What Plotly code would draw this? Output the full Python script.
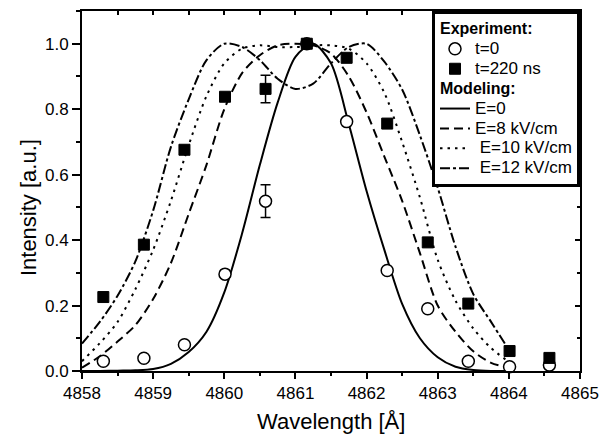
import plotly.graph_objects as go

# ---------------- data ----------------
x_exp = [4858.30, 4858.87, 4859.44, 4860.01, 4860.58, 4861.16,
         4861.72, 4862.29, 4862.86, 4863.43, 4864.01, 4864.57]
y_t0 = [0.030, 0.039, 0.080, 0.296, 0.519, 1.000,
        0.762, 0.307, 0.190, 0.030, 0.013, 0.018]
y_t220 = [0.226, 0.386, 0.676, 0.838, 0.862, 1.000,
          0.957, 0.756, 0.393, 0.206, 0.061, 0.040]
err_t0 = [0, 0, 0, 0, 0.050, 0, 0, 0, 0, 0, 0, 0]
err_t220 = [0, 0, 0, 0, 0.042, 0, 0, 0, 0, 0, 0, 0]

x_model = [4858.00, 4858.25, 4858.50, 4858.75, 4859.00, 4859.25, 4859.50,
           4859.75, 4860.00, 4860.25, 4860.50, 4860.75, 4861.00, 4861.25,
           4861.50, 4861.75, 4862.00, 4862.25, 4862.50, 4862.75, 4863.00,
           4863.25, 4863.50, 4863.75, 4864.00]
e0 = [0.000, 0.000, 0.001, 0.002, 0.006, 0.022, 0.058, 0.120, 0.240, 0.420,
      0.630, 0.820, 0.960, 1.000, 0.940, 0.755, 0.550, 0.370, 0.205, 0.100,
      0.042, 0.013, 0.003, 0.000, 0.000]
e8 = [0.010, 0.045, 0.090, 0.140, 0.220, 0.330, 0.480, 0.630, 0.800, 0.910,
      0.965, 0.995, 1.000, 0.995, 0.970, 0.900, 0.790, 0.655, 0.520, 0.360,
      0.200, 0.120, 0.060, 0.025, 0.010]
e10 = [0.030, 0.085, 0.150, 0.250, 0.370, 0.520, 0.690, 0.840, 0.940, 0.985,
       0.995, 0.990, 0.990, 0.995, 0.995, 0.985, 0.940, 0.850, 0.700, 0.530,
       0.340, 0.215, 0.130, 0.070, 0.028]
e12 = [0.084, 0.150, 0.230, 0.335, 0.490, 0.685, 0.830, 0.950, 1.000, 0.990,
       0.950, 0.893, 0.862, 0.878, 0.940, 0.990, 1.000, 0.945, 0.860, 0.720,
       0.560, 0.380, 0.235, 0.150, 0.065]

x_ticks = [4858, 4859, 4860, 4861, 4862, 4863, 4864, 4865]
y_ticks = [0.0, 0.2, 0.4, 0.6, 0.8, 1.0]

FONT = "Liberation Sans, Arial, sans-serif"


def item(txt):
    return '<span style="font-size:17px">' + txt + '</span>'


def head(txt):
    return '<span style="font-size:16px"><b>' + txt + '</b></span>'


fig = go.Figure()

models = [
    ("E=0", e0, "solid"),
    ("E=8 kV/cm", e8, "9px,5px"),
    ("\u00a0E=10 kV/cm", e10, "2.5px,5px"),
    ("\u00a0E=12 kV/cm", e12, "10px,3px,3px,3px"),
]
for i, (name, ys, dash) in enumerate(models):
    fig.add_trace(go.Scatter(
        x=x_model, y=ys, mode="lines", name=item(name),
        line=dict(color="black", width=2, dash=dash, shape="spline", smoothing=0.8),
        legendgroup="model", legendgrouptitle=dict(text=head("Modeling:"),
                                                   font=dict(size=13, family=FONT)),
        legendrank=10 + i,
    ))

fig.add_trace(go.Scatter(
    x=x_exp, y=y_t0, mode="markers", name=item("t=0"),
    marker=dict(symbol="circle", size=12, color="white",
                line=dict(color="black", width=1.5)),
    error_y=dict(type="data", array=err_t0, visible=True, color="black",
                 thickness=1.5, width=5),
    cliponaxis=False,
    legendgroup="exp", legendgrouptitle=dict(text=head("Experiment:"),
                                             font=dict(size=13, family=FONT)),
    legendrank=1,
))
fig.add_trace(go.Scatter(
    x=x_exp, y=y_t220, mode="markers", name=item("t=220 ns"),
    marker=dict(symbol="square", size=11, color="black",
                line=dict(color="black", width=1)),
    error_y=dict(type="data", array=err_t220, visible=True, color="black",
                 thickness=1.5, width=5),
    cliponaxis=False,
    legendgroup="exp", legendgrouptitle=dict(text=head("Experiment:"),
                                             font=dict(size=13, family=FONT)),
    legendrank=2,
))

axis_common = dict(showgrid=False, zeroline=False, tickcolor="black", tickwidth=1.5)

fig.update_layout(
    width=608, height=437,
    margin=dict(l=82, r=27, t=9, b=66),
    paper_bgcolor="white", plot_bgcolor="white",
    font=dict(family=FONT, color="black", size=17),
    showlegend=True,
    legend=dict(x=1, xanchor="right", y=1, yanchor="top",
                bgcolor="white", bordercolor="black", borderwidth=3,
                font=dict(size=13, family=FONT), traceorder="grouped",
                tracegroupgap=0, itemwidth=30),
    xaxis=dict(range=[4858, 4865], tickvals=x_ticks, ticktext=[str(v) for v in x_ticks],
               ticks="outside", ticklen=6, mirror=True, linecolor="black", linewidth=2,
               minor=dict(dtick=0.5, ticks="outside", ticklen=3, tickcolor="black",
                          tickwidth=1.5),
               tickfont=dict(size=17), **axis_common),
    yaxis=dict(range=[0, 1.1], tickvals=y_ticks, tickformat=".1f",
               ticks="outside", ticklen=8, mirror=True, linecolor="black", linewidth=2,
               minor=dict(dtick=0.1, ticks="outside", ticklen=4, tickcolor="black",
                          tickwidth=1.5),
               tickfont=dict(size=17), **axis_common),
    xaxis2=dict(range=[4858, 4865], overlaying="x", side="top", showticklabels=False,
                tickvals=x_ticks, ticks="inside", ticklen=4, showline=False,
                minor=dict(dtick=0.5, ticks="inside", ticklen=4, tickcolor="black",
                           tickwidth=1.5),
                **axis_common),
    yaxis2=dict(range=[0, 1.1], overlaying="y", side="right", showticklabels=False,
                tickvals=y_ticks, ticks="inside", ticklen=5, showline=False,
                minor=dict(dtick=0.1, ticks="inside", ticklen=3, tickcolor="black",
                           tickwidth=1.5),
                **axis_common),
    annotations=[
        dict(text="Wavelength [Å]", xref="paper", yref="paper", x=0.5, y=-0.14,
             xanchor="center", yanchor="middle", showarrow=False,
             font=dict(size=22, family=FONT)),
        dict(text="Intensity [a.u.]", xref="paper", yref="y", x=-0.107, y=0.5,
             xanchor="center", yanchor="middle", textangle=-90, showarrow=False,
             font=dict(size=22, family=FONT)),
    ],
)

# invisible trace so the mirrored (top/right) tick axes are drawn
fig.add_trace(go.Scatter(x=[4858], y=[0], xaxis="x2", yaxis="y2", mode="markers",
                         marker=dict(opacity=0), showlegend=False, hoverinfo="skip"))

fig.write_html("out.html", config={"displayModeBar": False},
               post_script="document.body.style.margin='0px';")
